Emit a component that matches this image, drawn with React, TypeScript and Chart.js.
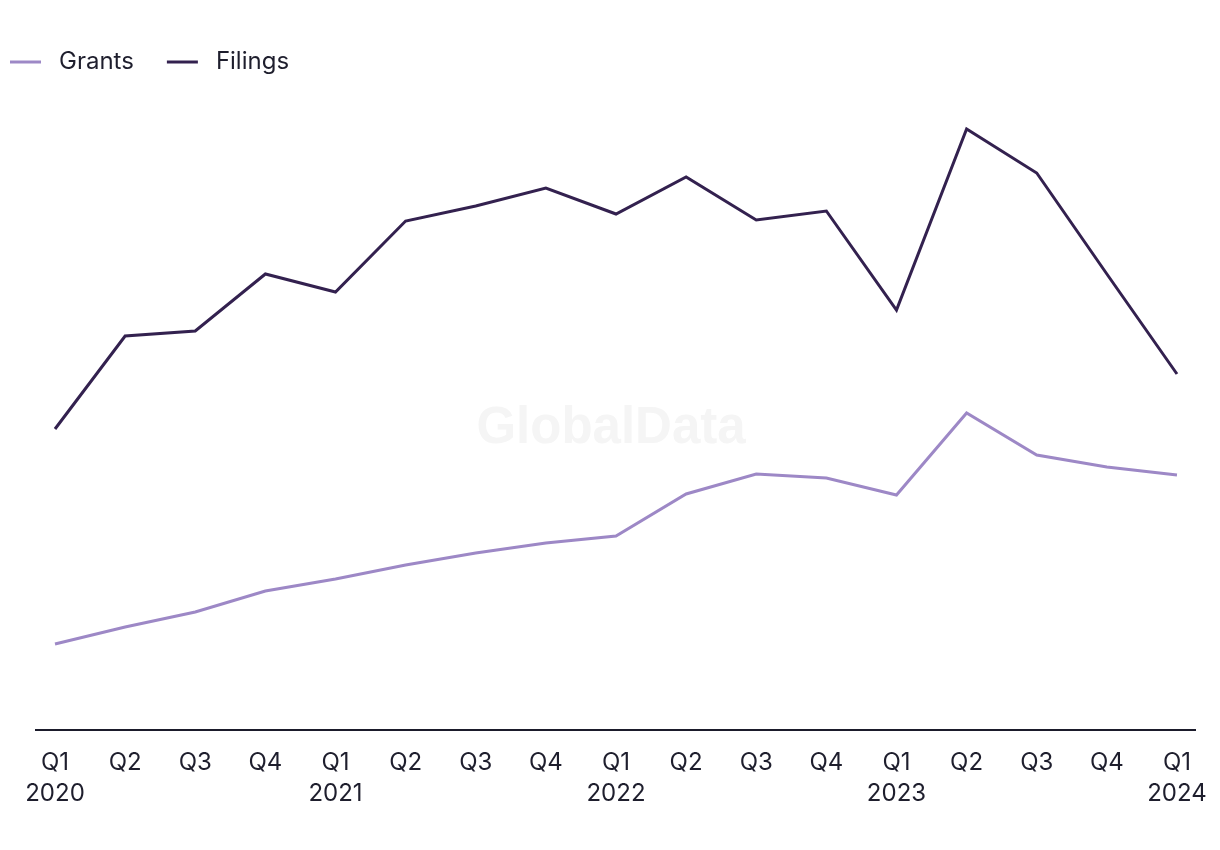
import React, { useEffect, useRef } from 'react';
import { Chart, registerables } from 'chart.js';

Chart.register(...registerables);

const quarters = ['Q1', 'Q2', 'Q3', 'Q4', 'Q1', 'Q2', 'Q3', 'Q4', 'Q1', 'Q2', 'Q3', 'Q4', 'Q1', 'Q2', 'Q3', 'Q4', 'Q1'];
const years = ['2020', '', '', '', '2021', '', '', '', '2022', '', '', '', '2023', '', '', '', '2024'];
const grants = [86, 103, 118, 139, 151, 165, 177, 187, 194, 236, 256, 252, 235, 317, 275, 263, 255];
const filings = [301, 394, 399, 456, 438, 509, 524, 542, 516, 553, 510, 519, 420, 601, 557, 456, 356];

const GRANTS_COLOR = '#9d88c6';
const FILINGS_COLOR = '#33214f';
const TEXT_COLOR = '#1e1e2d';
const FONT = 'Inter';

const watermarkPlugin = {
  id: 'watermark',
  beforeDatasetsDraw(chart: any) {
    const { ctx } = chart;
    ctx.save();
    ctx.font = 'bold 51px "Liberation Sans", Arial, sans-serif';
    ctx.fillStyle = '#f5f5f5';
    ctx.textAlign = 'center';
    ctx.textBaseline = 'alphabetic';
    ctx.fillText('GlobalData', 611, 443);
    ctx.restore();
  },
};

const lineLegendPlugin = {
  id: 'lineLegend',
  afterDraw(chart: any) {
    const { ctx } = chart;
    ctx.save();
    ctx.font = `24px ${FONT}`;
    ctx.textBaseline = 'middle';
    ctx.textAlign = 'left';
    let x = 10;
    const y = 62;
    chart.data.datasets.forEach((ds: any) => {
      ctx.strokeStyle = ds.borderColor;
      ctx.lineWidth = 3;
      ctx.lineCap = 'butt';
      ctx.beginPath();
      ctx.moveTo(x, y);
      ctx.lineTo(x + 31, y);
      ctx.stroke();
      ctx.fillStyle = TEXT_COLOR;
      ctx.fillText(ds.label, x + 49, y);
      x += 49 + ctx.measureText(ds.label).width + 33;
    });
    ctx.restore();
  },
};

export default function App() {
  const canvasRef = useRef<HTMLCanvasElement | null>(null);

  useEffect(() => {
    if (!canvasRef.current) return;
    Chart.defaults.font.family = FONT;
    const chart = new Chart(canvasRef.current, {
      type: 'line',
      data: {
        datasets: [
          {
            label: 'Grants',
            data: grants.map((v, i) => ({ x: i, y: v })),
            borderColor: GRANTS_COLOR,
            backgroundColor: GRANTS_COLOR,
            borderWidth: 3,
            pointRadius: 0,
            tension: 0,
          },
          {
            label: 'Filings',
            data: filings.map((v, i) => ({ x: i, y: v })),
            borderColor: FILINGS_COLOR,
            backgroundColor: FILINGS_COLOR,
            borderWidth: 3,
            pointRadius: 0,
            tension: 0,
          },
        ],
      },
      options: {
        responsive: false,
        animation: false,
        layout: { padding: { top: 90, left: 36, right: 25, bottom: 0 } },
        plugins: {
          legend: { display: false },
          tooltip: { enabled: false },
        },
        scales: {
          x: {
            type: 'linear',
            min: -0.271,
            max: 16.257,
            grid: { display: false, drawTicks: false },
            border: { display: true, color: '#1b1b2b', width: 2 },
            ticks: {
              padding: 17,
              autoSkip: false,
              maxRotation: 0,
              includeBounds: false,
              color: TEXT_COLOR,
              font: { family: FONT, size: 24, lineHeight: 1.3 },
              callback: (v: any) => {
                const i = Math.round(Number(v));
                return years[i] ? [quarters[i], years[i]] : quarters[i];
              },
            },
            afterBuildTicks: (s: any) => {
              s.ticks = quarters.map((_, i) => ({ value: i }));
            },
            afterFit: (s: any) => {
              s.height = 120;
              s.paddingLeft = 0;
              s.paddingRight = 0;
            },
          },
          y: { display: false, min: 0, max: 640 },
        },
      },
      plugins: [watermarkPlugin, lineLegendPlugin],
    } as any);
    return () => chart.destroy();
  }, []);

  return (
    <div style={{ position: 'absolute', left: 0, top: 0, width: 1220, height: 850, background: '#ffffff' }}>
      <canvas ref={canvasRef} width={1220} height={850} style={{ display: 'block' }} />
    </div>
  );
}
